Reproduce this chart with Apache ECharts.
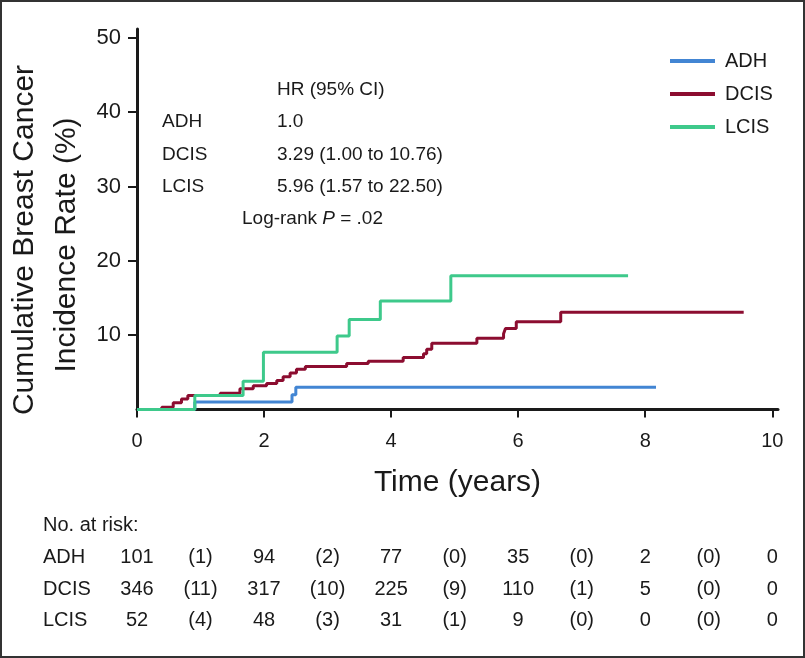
<!DOCTYPE html>
<html>
<head>
<meta charset="utf-8">
<title>Cumulative Breast Cancer Incidence</title>
<script src="https://cdn.jsdelivr.net/npm/echarts@6/dist/echarts.min.js"></script>
<style>
html, body { margin: 0; padding: 0; background: #fff; }
#kmChart { width: 805px; height: 658px; }
</style>
</head>
<body>
<div id="kmChart"></div>
<script>
/*曲线数据 (years, %)*/
var adhTime = [0, 0.91, 2.44, 2.50, 8.17];
var adhRate = [0, 1.0, 2.0, 3.0, 3.0];

var dcisTime = [0, 0.39, 0.57, 0.70, 0.80, 1.31, 1.62, 1.83, 2.04, 2.20, 2.30, 2.41, 2.51, 2.65, 3.30, 3.64, 4.19, 4.51, 4.56, 4.64, 5.35, 5.77, 5.80, 5.97, 6.67, 9.55];
var dcisRate = [0, 0.3, 0.9, 1.4, 1.9, 2.2, 2.8, 3.2, 3.5, 3.9, 4.4, 4.9, 5.4, 5.8, 6.2, 6.5, 7.0, 7.5, 8.1, 8.9, 9.6, 10.2, 10.9, 11.8, 13.1, 13.1];

var lcisTime = [0, 0.91, 1.67, 1.99, 3.15, 3.34, 3.83, 4.94, 7.73];
var lcisRate = [0, 1.9, 3.8, 7.7, 9.9, 12.1, 14.6, 18.0, 18.0];

/*坐标轴刻度*/
var xTicks = [0, 2, 4, 6, 8, 10];
var yTicks = [10, 20, 30, 40, 50];

/*HR 表*/
var hrGroups = ['ADH', 'DCIS', 'LCIS'];
var hrValues = ['1.0', '3.29 (1.00 to 10.76)', '5.96 (1.57 to 22.50)'];

/*No. at risk 表*/
var riskYears = [0, 1, 2, 3, 4, 5, 6, 7, 8, 9, 10];
var adhRisk = ['101', '(1)', '94', '(2)', '77', '(0)', '35', '(0)', '2', '(0)', '0'];
var dcisRisk = ['346', '(11)', '317', '(10)', '225', '(9)', '110', '(1)', '5', '(0)', '0'];
var lcisRisk = ['52', '(4)', '48', '(3)', '31', '(1)', '9', '(0)', '0', '(0)', '0'];

var lineColors = ['#4285d3', '#8c0d30', '#3ec98b'];
var fontName = '"Liberation Sans", Arial, Helvetica, sans-serif';
var ink = '#1a1a1a';

function toPairs(t, v) {
    var out = [];
    for (var i = 0; i < t.length; i++) {
        out.push([t[i], v[i]]);
    }
    return out;
}

function kmSeries(name, t, v, color) {
    return {
        name: name,
        type: 'line',
        step: 'end',
        showSymbol: false,
        data: toPairs(t, v),
        color: color,
        lineStyle: { width: 3, color: color },
        animation: false
    };
}

function txt(x, y, text, size, align, extra) {
    var el = {
        type: 'text',
        x: x,
        y: y,
        style: {
            text: text,
            fill: ink,
            font: size + 'px ' + fontName,
            textAlign: align || 'left',
            textVerticalAlign: 'middle'
        }
    };
    if (extra) {
        for (var k in extra) { el[k] = extra[k]; }
    }
    return el;
}

var chart = echarts.init(document.getElementById('kmChart'));

chart.setOption({
    backgroundColor: '#fff',
    animation: false,
    textStyle: { fontFamily: fontName },
    grid: { left: 137, right: 27, top: 29, bottom: 248.5, containLabel: false },
    legend: {
        orient: 'vertical',
        left: 665,
        top: 45,
        icon: 'rect',
        itemWidth: 45,
        itemHeight: 4,
        itemGap: 11,
        data: hrGroups.slice(),
        textStyle: { fontSize: 20, lineHeight: 22, color: ink, fontFamily: fontName, padding: [0, 0, 0, 5] }
    },
    xAxis: {
        type: 'value',
        min: 0,
        max: 10.09,
        name: 'Time (years)',
        nameLocation: 'middle',
        nameGap: 58,
        nameTextStyle: { fontSize: 30, color: ink, fontFamily: fontName },
        splitLine: { show: false },
        axisLine: { lineStyle: { color: ink, width: 3 } },
        axisTick: { length: 8, lineStyle: { color: ink, width: 2 }, customValues: xTicks },
        axisLabel: { fontSize: 20, color: ink, margin: 22, customValues: xTicks }
    },
    yAxis: {
        type: 'value',
        min: 0,
        max: 51.2,
        splitLine: { show: false },
        axisLine: { show: true, lineStyle: { color: ink, width: 3 } },
        axisTick: { show: true, length: 9, lineStyle: { color: ink, width: 2 }, customValues: yTicks },
        axisLabel: { fontSize: 22, color: ink, margin: 16, customValues: yTicks }
    },
    series: [
        kmSeries('ADH', adhTime, adhRate, lineColors[0]),
        kmSeries('DCIS', dcisTime, dcisRate, lineColors[1]),
        kmSeries('LCIS', lcisTime, lcisRate, lineColors[2])
    ]
});

/*文字: y轴标题, HR表, 风险人数表, 外框*/
function buildGraphic() {
    var g = [];
    g.push({
        type: 'rect',
        shape: { x: 1, y: 1, width: 803, height: 656 },
        style: { fill: 'none', stroke: '#333', lineWidth: 2 },
        silent: true
    });
    g.push(txt(25, 240, 'Cumulative Breast Cancer', 30, 'center', { rotation: Math.PI / 2 }));
    g.push(txt(67, 245, 'Incidence Rate (%)', 30, 'center', { rotation: Math.PI / 2 }));

    // HR (95% CI)
    g.push(txt(277, 90, 'HR (95% CI)', 19));
    for (var i = 0; i < hrGroups.length; i++) {
        g.push(txt(162, 122 + i * 32.5, hrGroups[i], 19));
        g.push(txt(277, 122 + i * 32.5, hrValues[i], 19));
    }
    g.push({
        type: 'text',
        x: 242,
        y: 219,
        style: {
            text: '{n|Log-rank }{i|P}{n| = .02}',
            textVerticalAlign: 'middle',
            rich: {
                n: { fontSize: 19, fontFamily: fontName, fill: ink },
                i: { fontSize: 19, fontFamily: fontName, fontStyle: 'italic', fill: ink }
            }
        }
    });

    // No. at risk
    g.push(txt(43, 525, 'No. at risk:', 20));
    var rows = [adhRisk, dcisRisk, lcisRisk];
    var rowY = [557, 589, 620];
    for (var r = 0; r < rows.length; r++) {
        g.push(txt(43, rowY[r], hrGroups[r], 20));
        for (var c = 0; c < riskYears.length; c++) {
            var px = chart.convertToPixel({ xAxisIndex: 0 }, riskYears[c]);
            g.push(txt(px, rowY[r], rows[r][c], 20, 'center'));
        }
    }
    chart.setOption({ graphic: g });
}
buildGraphic();
</script>
</body>
</html>
